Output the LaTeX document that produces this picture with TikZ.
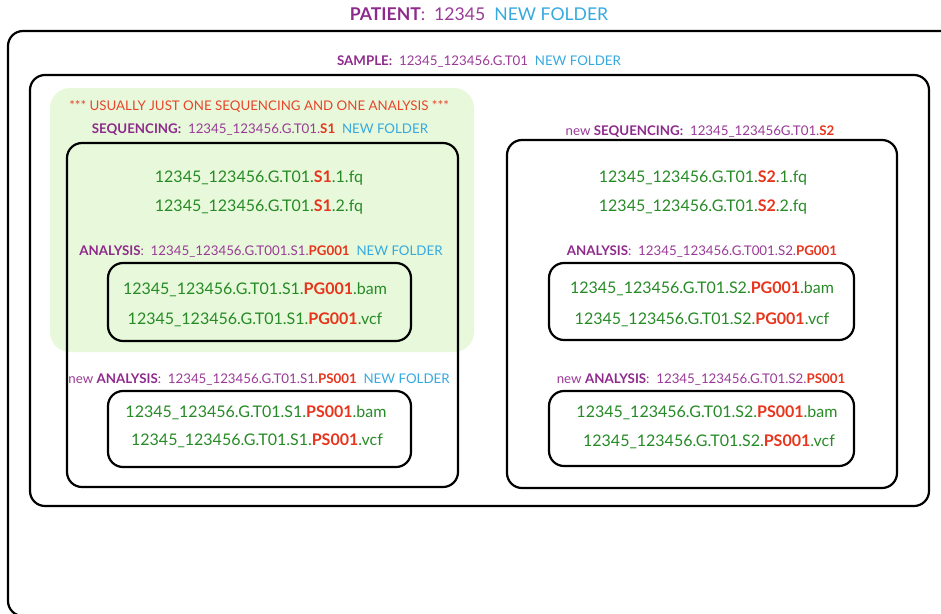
\documentclass[tikz,border=0pt]{standalone}
\usepackage{fontspec}
\setmainfont{Lato}
\definecolor{lblpurple}{HTML}{8E2A8C}
\definecolor{valpurple}{HTML}{9A3A97}
\definecolor{nfblue}{HTML}{35A9E0}
\definecolor{filegreen}{HTML}{268A26}
\definecolor{hired}{HTML}{E8341C}
\definecolor{notered}{HTML}{E8452C}
\definecolor{seqfill}{HTML}{E7F9DA}
% text helpers
\newcommand{\lbl}[1]{\textcolor{lblpurple}{\bfseries #1}}
\newcommand{\val}[1]{\textcolor{valpurple}{#1}}
\newcommand{\nf}{\textcolor{nfblue}{NEW FOLDER}}
\newcommand{\hil}[1]{\textcolor{hired}{\bfseries #1}}
\begin{document}
\begin{tikzpicture}[x=1pt,y=-1pt,
  folder/.style={draw=black,line width=2.2pt,rounded corners=15pt,inner sep=0pt},
  fileline/.style={text=filegreen,font=\fontsize{16}{18}\selectfont,inner sep=0pt},
  head/.style={font=\fontsize{13.3}{15}\selectfont,inner sep=0pt},
  top/.style={font=\fontsize{17.6}{20}\selectfont,inner sep=0pt}]
\useasboundingbox (0,0) rectangle (941,613);
\clip (0,0) rectangle (941,613);

% folder boxes
\node[folder,minimum width=952pt,minimum height=585pt] (patient) at (484,323.5) {};
\node[folder,minimum width=899pt,minimum height=431pt] (sample) at (479.5,290.5) {};
\node[fill=seqfill,rounded corners=20pt,minimum width=424pt,minimum height=264pt,inner sep=0pt] (usual) at (262,220) {};
\node[folder,minimum width=391pt,minimum height=344pt] (seqA) at (262.5,315) {};
\node[folder,minimum width=303pt,minimum height=78pt] (pgA) at (259.5,302) {};
\node[folder,minimum width=303pt,minimum height=76pt] (psA) at (259.5,429) {};
\node[folder,minimum width=390pt,minimum height=348pt] (seqB) at (702,314) {};
\node[folder,minimum width=305pt,minimum height=77pt] (pgB) at (701.5,301.5) {};
\node[folder,minimum width=305pt,minimum height=75pt] (psB) at (701.5,428.5) {};

% headings
\node[top] (tpatient) at (479,14) {\lbl{PATIENT}\val{:\ \ 12345}\ \ \nf};
\node[head] (tsample) at (479,62) {\lbl{SAMPLE:}\ \ \val{12345\_123456.G.T01}\ \ \nf};
\node[head,text=notered] (tnote) at (259,106) {*** USUALLY JUST ONE SEQUENCING AND ONE ANALYSIS ***};
\node[head] (tseqA) at (260,130) {\lbl{SEQUENCING:}\ \ \val{12345\_123456.G.T01.}\hil{S1}\ \ \nf};
\node[head] (tseqB) at (700,132) {\val{new} \lbl{SEQUENCING:}\ \ \val{12345\_123456G.T01.}\hil{S2}};
\node[head] (tpgA) at (261,252) {\lbl{ANALYSIS}\val{:\ \ 12345\_123456.G.T001.S1.}\hil{PG001}\ \ \nf};
\node[head] (tpgB) at (702,252) {\lbl{ANALYSIS}\val{:\ \ 12345\_123456.G.T001.S2.}\hil{PG001}};
\node[head] (tpsA) at (259,380) {\val{new} \lbl{ANALYSIS}\val{:\ \ 12345\_123456.G.T01.S1.}\hil{PS001}\ \ \nf};
\node[head] (tpsB) at (701,380) {\val{new} \lbl{ANALYSIS}\val{:\ \ 12345\_123456.G.T01.S2.}\hil{PS001}};

% file names
\node[fileline] (fqA1) at (259,178) {12345\_123456.G.T01.\hil{S1}.1.fq};
\node[fileline] (fqA2) at (259,207) {12345\_123456.G.T01.\hil{S1}.2.fq};
\node[fileline] (fqB1) at (703,178) {12345\_123456.G.T01.\hil{S2}.1.fq};
\node[fileline] (fqB2) at (703,207) {12345\_123456.G.T01.\hil{S2}.2.fq};
\node[fileline] (bamA) at (255,290) {12345\_123456.G.T01.S1.\hil{PG001}.bam};
\node[fileline] (vcfA) at (255,320) {12345\_123456.G.T01.S1.\hil{PG001}.vcf};
\node[fileline] (bamB) at (702,289) {12345\_123456.G.T01.S2.\hil{PG001}.bam};
\node[fileline] (vcfB) at (702,320) {12345\_123456.G.T01.S2.\hil{PG001}.vcf};
\node[fileline] (bamC) at (256,413) {12345\_123456.G.T01.S1.\hil{PS001}.bam};
\node[fileline] (vcfC) at (257,441) {12345\_123456.G.T01.S1.\hil{PS001}.vcf};
\node[fileline] (bamD) at (707,413) {12345\_123456.G.T01.S2.\hil{PS001}.bam};
\node[fileline] (vcfD) at (709,442) {12345\_123456.G.T01.S2.\hil{PS001}.vcf};
\end{tikzpicture}
\end{document}
